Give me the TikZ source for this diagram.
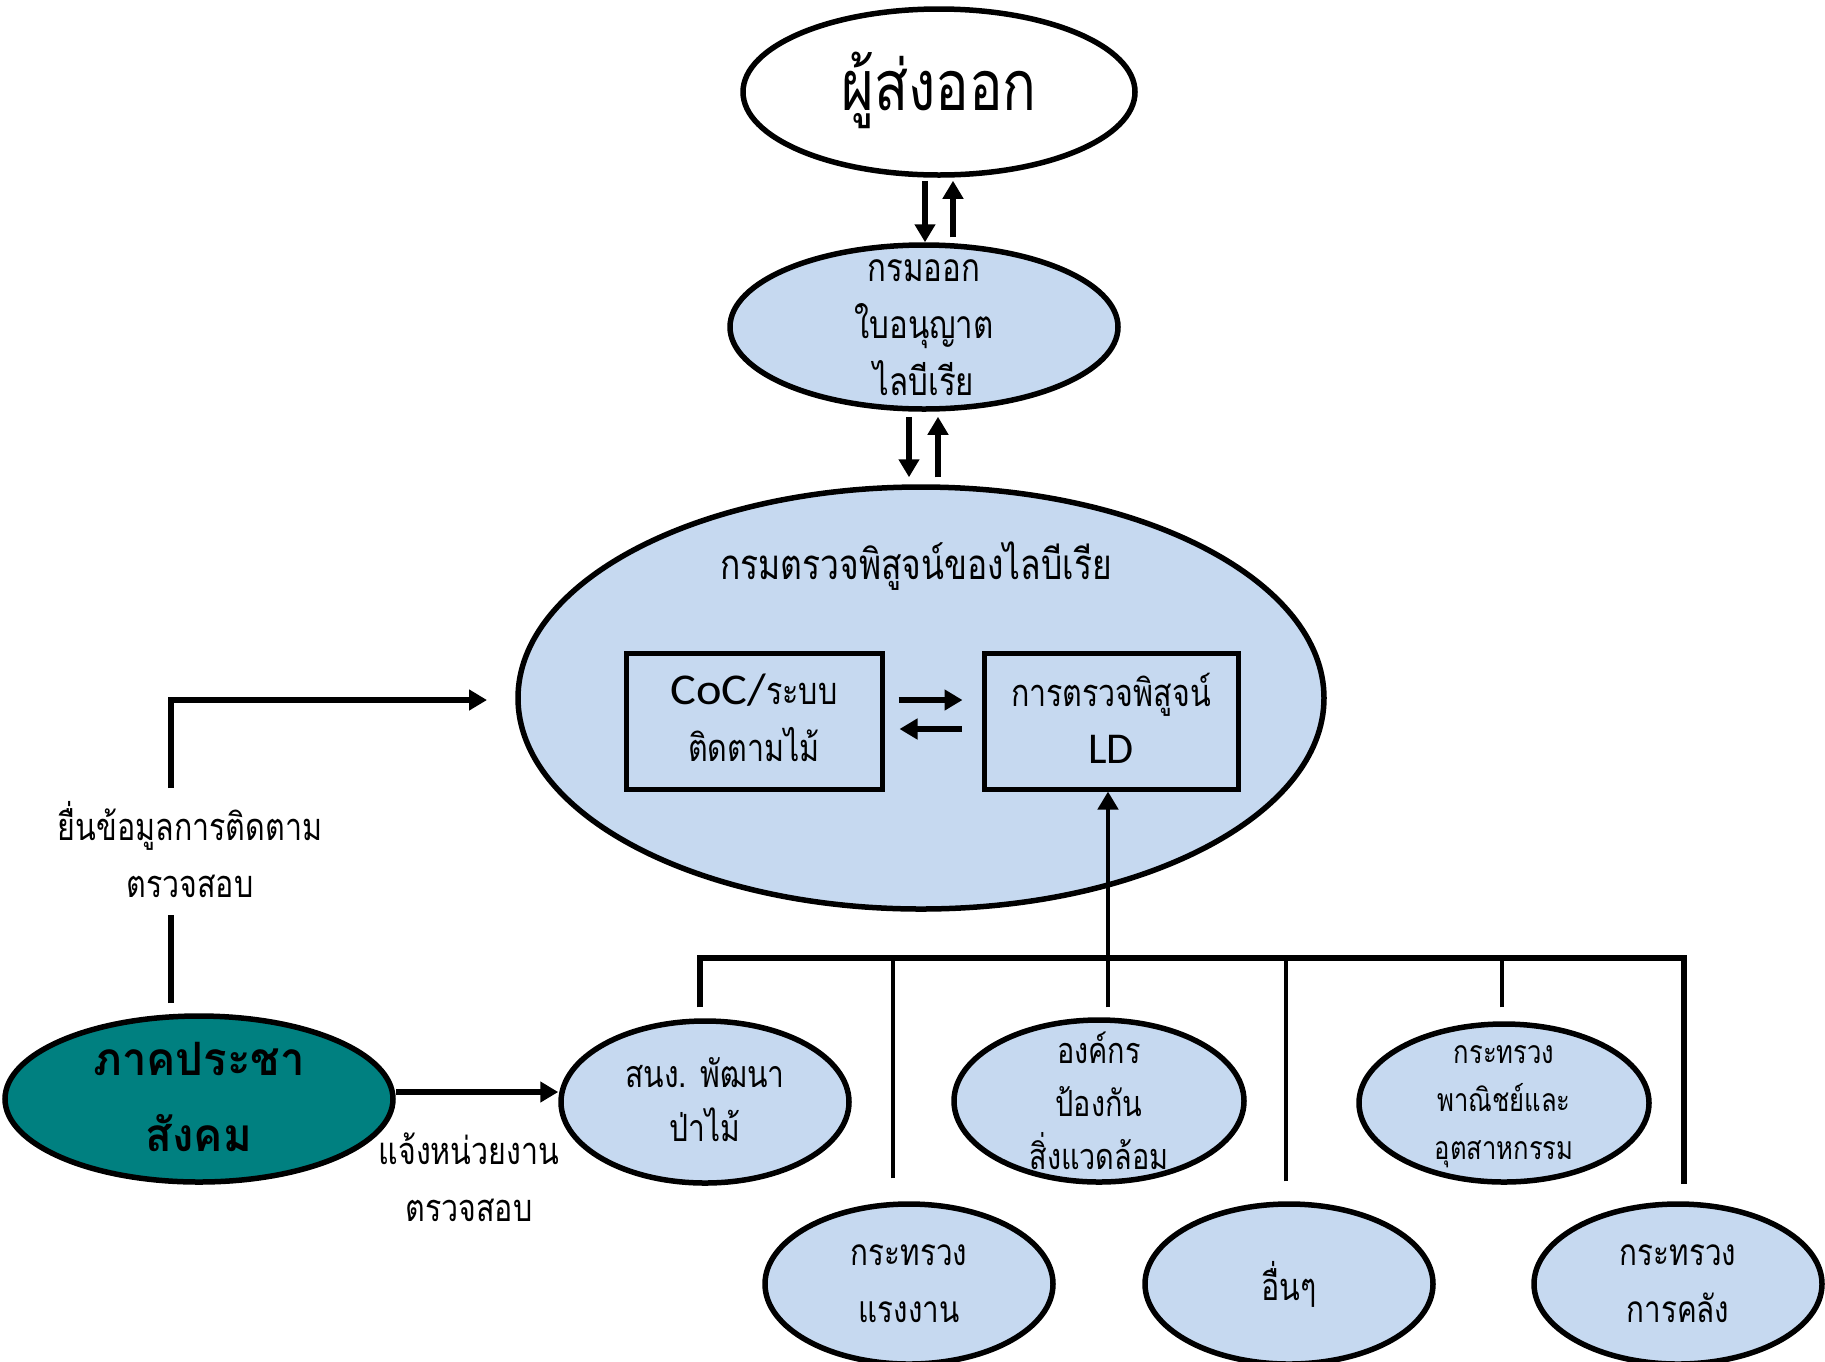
\documentclass[tikz,border=0pt]{standalone}
\usepackage{fontspec}
\setmainfont{Loma}[Script=Thai,FakeStretch=0.8]
\newfontfamily\thaibold{Loma Bold}[Script=Thai,FakeStretch=0.95]
\newfontfamily\calib{Carlito}[FakeStretch=1.1]
\newfontfamily\calibn{Carlito}
\usetikzlibrary{shapes.geometric,arrows.meta}
\definecolor{lblue}{RGB}{198,217,240}
\definecolor{tealc}{RGB}{0,128,128}
\begin{document}
\begin{tikzpicture}[x=1pt,y=-1pt,
  blob/.style={ellipse, draw, line width=5.5pt, fill=lblue, inner sep=0pt},
  box/.style={rectangle, draw, line width=5pt, fill=lblue, inner sep=0pt},
  txt/.style={align=center, inner sep=0pt, font=\fontsize{38}{57}\selectfont},
  arr/.style={line width=6pt, -{Triangle[length=18pt,width=20pt]}},
  ln/.style={line width=4.5pt}]
\useasboundingbox (0,0) rectangle (1825,1361);

% ellipses and boxes
\node[blob, fill=white, minimum width=392pt, minimum height=166pt] (exp) at (939,92) {};
\node[txt, font=\fontsize{70}{74}\selectfont] (expt) at (939,90) {ผู้ส่งออก};

\node[blob, minimum width=388pt, minimum height=164pt] (lic) at (924,327) {};
\node[txt, font=\fontsize{39}{57}\selectfont] (lict) at (924,328) {กรมออก\\ใบอนุญาต\\ไลบีเรีย};

\node[blob, minimum width=806pt, minimum height=422pt] (fid) at (921,698) {};
\node[txt, font=\fontsize{42}{50}\selectfont] (fidt) at (916,566) {กรมตรวจพิสูจน์ของไลบีเรีย};

\node[box, minimum width=256pt, minimum height=136pt] (coc) at (754,721) {};
\node[txt] (coct) at (754,718) {{\calib\fontsize{44}{48}\selectfont CoC/}ระบบ\\ติดตามไม้};

\node[box, minimum width=254pt, minimum height=136pt] (ld) at (1111,721) {};
\node[txt] (ldt) at (1111,718) {การตรวจพิสูจน์\\{\calibn\fontsize{44}{48}\selectfont LD}};

\node[blob, fill=tealc, minimum width=388pt, minimum height=166pt] (civ) at (199,1099) {};
\node[txt, font=\fontsize{46}{76}\thaibold] (civt) at (199,1097) {ภาคประชา\\สังคม};

\node[blob, minimum width=288pt, minimum height=162pt] (fdo) at (705,1102) {};
\node[txt, font=\fontsize{37.5}{54}\selectfont] (fdot) at (705,1100) {สนง. พัฒนา\\ป่าไม้};

\node[blob, minimum width=290pt, minimum height=162pt] (epa) at (1099,1101) {};
\node[txt, font=\fontsize{36}{53}\selectfont] (epat) at (1099,1101) {องค์กร\\ป้องกัน\\สิ่งแวดล้อม};

\node[blob, minimum width=290pt, minimum height=158pt] (moci) at (1504,1103) {};
\node[txt, font=\fontsize{32}{48}\selectfont] (mocit) at (1504,1107) {กระทรวง\\พาณิชย์และ\\อุตสาหกรรม};

\node[blob, minimum width=288pt, minimum height=160pt] (mol) at (909,1284) {};
\node[txt, font=\fontsize{37}{57}\selectfont] (molt) at (909,1284) {กระทรวง\\แรงงาน};

\node[blob, minimum width=288pt, minimum height=160pt] (oth) at (1289,1284) {};
\node[txt] (otht) at (1289,1284) {อื่นๆ};

\node[blob, minimum width=288pt, minimum height=160pt] (mof) at (1678,1284) {};
\node[txt, font=\fontsize{37}{57}\selectfont] (moft) at (1678,1284) {กระทรวง\\การคลัง};

% labels
\node[txt] (lab1) at (190,850) {ยื่นข้อมูลการติดตาม\\ตรวจสอบ};
\node[txt] (lab2) at (469,1177) {แจ้งหน่วยงาน\\ตรวจสอบ};

% connectors top
\draw[arr] ([xshift=-14pt,yshift=-3pt]exp.south) -- ([xshift=-14pt]exp.south |- lic.north);
\draw[arr] ([xshift=14pt,yshift=5pt]exp.south |- lic.north) -- ([xshift=14pt,yshift=-3pt]exp.south);
\draw[arr] ([xshift=-15pt,yshift=-5pt]lic.south) -- ([xshift=-15pt,yshift=7pt]lic.south |- fid.north);
\draw[arr] ([xshift=14pt,yshift=7pt]lic.south |- fid.north) -- ([xshift=14pt,yshift=-5pt]lic.south);

% inner arrows
\draw[arr] ([xshift=14pt,yshift=21pt]coc.east) -- ([xshift=-19pt,yshift=21pt]ld.west);
\draw[arr] ([xshift=-20pt,yshift=-8pt]ld.west) -- ([xshift=15pt,yshift=-8pt]coc.east);

% bus
\coordinate (busY) at (0,958);
\draw[ln, line width=5.5pt] ([xshift=-5pt,yshift=11pt]fdo.north) |- ([xshift=6pt]mof.north |- busY) -- ([xshift=6pt,yshift=17pt]mof.north);
\draw[ln] ([xshift=-16pt,yshift=23pt]mol.north) -- ([xshift=-16pt]mol.north |- busY);
\draw[ln] ([xshift=-3pt,yshift=20pt]oth.north) -- ([xshift=-3pt]oth.north |- busY);
\draw[ln] ([xshift=-2pt,yshift=14pt]moci.north) -- ([xshift=-2pt]moci.north |- busY);
\draw[arr, line width=4.5pt] ([xshift=9pt,yshift=10pt]epa.north) -- ([xshift=9pt]epa.north |- ld.south);

% civil society connectors
\coordinate (k1) at (171,1003);
\coordinate (k2) at (171,915);
\coordinate (k3) at (171,788);
\coordinate (k4) at (171,700);
\coordinate (k5) at (487,700);
\draw[ln, line width=6pt] (k1) -- (k2);
\draw[arr] (k3) -- (k4) -- (k5);
\draw[arr] ([yshift=7pt]civ.east) -- ([yshift=7pt]civ.east -| fdo.west);
\end{tikzpicture}
\end{document}
